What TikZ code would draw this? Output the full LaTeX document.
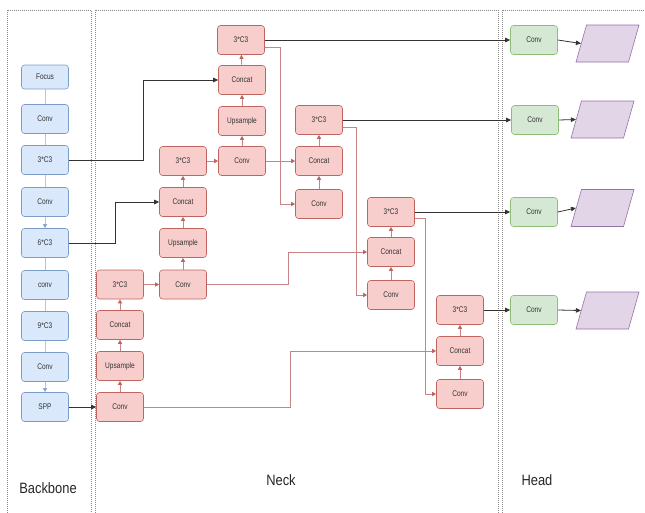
\documentclass[tikz,border=0pt]{standalone}
\usepackage{fontspec}
\setmainfont{Liberation Sans}
\newfontfamily\boxfont[FakeStretch=0.8]{Liberation Sans}
\newfontfamily\labfont[FakeStretch=0.86]{Liberation Sans}
\usetikzlibrary{arrows.meta,shapes.geometric,calc}
\definecolor{bbfill}{HTML}{DAE8FC}
\definecolor{bbdraw}{HTML}{7C9CC8}
\definecolor{nkfill}{HTML}{F8CECC}
\definecolor{nkdraw}{HTML}{C06460}
\definecolor{hdfill}{HTML}{D5E8D4}
\definecolor{hddraw}{HTML}{8FBF76}
\definecolor{oufill}{HTML}{E1D5E7}
\definecolor{oudraw}{HTML}{9673A6}
\definecolor{pkline}{HTML}{C98585}
\definecolor{bbline}{HTML}{B4C6DE}
\definecolor{bbtip}{HTML}{8FA6C6}
\definecolor{panel}{HTML}{8A8A8A}
\tikzset{
  boxbase/.style={rounded corners=3pt, line width=0.6pt, minimum width=47pt, minimum height=29pt, inner sep=1pt, font=\boxfont\fontsize{8.2}{9}\selectfont, text=black!80},
  bb/.style={boxbase, draw=bbdraw, fill=bbfill},
  nk/.style={boxbase, draw=nkdraw, fill=nkfill},
  hd/.style={boxbase, draw=hddraw, fill=hdfill},
  outbox/.style={trapezium, trapezium left angle=76, trapezium right angle=104, trapezium stretches=true, minimum width=63pt, minimum height=37pt, draw=oudraw, fill=oufill, line width=0.6pt},
  pk/.style={draw=pkline, line width=0.7pt, -{Triangle[width=4pt,length=4pt,color=nkdraw]}},
  bk/.style={draw=black!80, line width=0.8pt, -{Triangle[width=4.5pt,length=5pt]}},
  bl/.style={draw=bbline, line width=0.8pt},
  bla/.style={bl, -{Triangle[width=4pt,length=4pt,color=bbtip]}},
  panelbox/.style={draw=panel, line width=0.5pt, dash pattern=on 1pt off 1pt},
  lab/.style={font=\labfont\fontsize{15}{18}\selectfont, text=black!85}
}
\begin{document}
\begin{tikzpicture}[x=1pt,y=-1pt]
\useasboundingbox (0,0) rectangle (645,512);
\clip (0,0) rectangle (645,512);
% panels
\draw[panelbox] (7,10) rectangle (91,520);
\draw[panelbox] (95,10) rectangle (498,520);
\draw[panelbox] (502,10) rectangle (660,520);
% labels
\node[lab] (lbb) at (48,488) {Backbone};
\node[lab] (lnk) at (281,480) {Neck};
\node[lab] (lhd) at (537,480) {Head};
% backbone
\node[bb, minimum height=24pt] (focus) at (45,77) {Focus};
\node[bb] (bconv1) at (45,119) {Conv};
\node[bb] (bc3a) at (45,160) {3*C3};
\node[bb] (bconv2) at (45,202) {Conv};
\node[bb] (bc3b) at (45,243) {6*C3};
\node[bb] (bconv3) at (45,285) {conv};
\node[bb] (bc3c) at (45,326) {9*C3};
\node[bb] (bconv4) at (45,367) {Conv};
\node[bb] (spp) at (45,407) {SPP};
\draw[bl] (focus) -- (bconv1);
\draw[bl] (bconv1) -- (bc3a);
\draw[bl] (bc3a) -- (bconv2);
\draw[bla] (bconv2) -- (bc3b);
\draw[bl] (bc3b) -- (bconv3);
\draw[bl] (bconv3) -- (bc3c);
\draw[bl] (bc3c) -- (bconv4);
\draw[bla] (bconv4) -- (spp);
% neck col1
\node[nk] (c1cv) at (120,407) {Conv};
\node[nk] (c1up) at (120,366) {Upsample};
\node[nk] (c1cc) at (120,325) {Concat};
\node[nk] (c1t) at (120,284.5) {3*C3};
% col2
\node[nk] (c2cv) at (183,284.5) {Conv};
\node[nk] (c2up) at (183,243) {Upsample};
\node[nk] (c2cc) at (183,202) {Concat};
\node[nk] (c2t) at (183,161) {3*C3};
% col3
\node[nk] (c3cv) at (242,161) {Conv};
\node[nk] (c3up) at (242,121) {Upsample};
\node[nk] (c3cc) at (242,80) {Concat};
\node[nk] (c3t) at (241,40) {3*C3};
% col4
\node[nk] (c4cv) at (319,204) {Conv};
\node[nk] (c4cc) at (319,161) {Concat};
\node[nk] (c4t) at (319,120) {3*C3};
% col5
\node[nk] (c5cv) at (391,295) {Conv};
\node[nk] (c5cc) at (391,252) {Concat};
\node[nk] (c5t) at (391,212) {3*C3};
% col6
\node[nk] (c6cv) at (460,394) {Conv};
\node[nk] (c6cc) at (460,351) {Concat};
\node[nk] (c6t) at (460,310) {3*C3};
% head
\node[hd] (h1) at (534,40) {Conv};
\node[hd] (h2) at (535,120) {Conv};
\node[hd] (h3) at (534,212) {Conv};
\node[hd] (h4) at (534,310) {Conv};
\node[outbox] (o1) at (607.5,43.5) {};
\node[outbox] (o2) at (602.5,119.5) {};
\node[outbox] (o3) at (602.5,208) {};
\node[outbox] (o4) at (607.5,310.5) {};
% vertical neck arrows
\draw[pk] (c1cv) -- (c1up);
\draw[pk] (c1up) -- (c1cc);
\draw[pk] (c1cc) -- (c1t);
\draw[pk] (c2cv) -- (c2up);
\draw[pk] (c2up) -- (c2cc);
\draw[pk] (c2cc) -- (c2t);
\draw[pk] (c3cv) -- (c3up);
\draw[pk] (c3up) -- (c3cc);
\draw[pk] (c3cc) -- (c3t);
\draw[pk] (c4cv) -- (c4cc);
\draw[pk] (c4cc) -- (c4t);
\draw[pk] (c5cv) -- (c5cc);
\draw[pk] (c5cc) -- (c5t);
\draw[pk] (c6cv) -- (c6cc);
\draw[pk] (c6cc) -- (c6t);
% horizontal neck arrows
\draw[pk] (c1t) -- (c2cv);
\draw[pk] (c2t) -- (c3cv);
\draw[pk] (c3cv) -- (c4cc);
% routed neck connectors
\draw[pk] ($(c3t.east)+(0,7)$) -- ++(16,0) |- (c4cv.west);
\draw[pk] ($(c4t.east)+(0,7)$) -- ++(13.5,0) |- (c5cv.west);
\draw[pk] ($(c5t.east)+(0,6)$) -- ++(10.5,0) |- (c6cv.west);
\draw[pk] (c2cv.east) -- ++(81.5,0) |- (c5cc.west);
\draw[pk] (c1cv.east) -- ++(146.5,0) |- (c6cc.west);
% backbone to neck
\draw[bk] (bc3a.east) -- ++(74.5,0) |- (c3cc.west);
\draw[bk] (bc3b.east) -- ++(46.5,0) |- (c2cc.west);
\draw[bk] (spp.east) -- (c1cv.west);
% neck to head
\draw[bk] (c3t.east) -- (h1.west);
\draw[bk] (c4t.east) -- (h2.west);
\draw[bk] (c5t.east) -- (h3.west);
\draw[bk] (c6t.east) -- (h4.west);
% head to outputs
\draw[bk] (h1.east) -- (o1.west);
\draw[bk] (h2.east) -- (o2.west);
\draw[bk] (h3.east) -- (o3.west);
\draw[bk] (h4.east) -- (o4.west);
\end{tikzpicture}
\end{document}
